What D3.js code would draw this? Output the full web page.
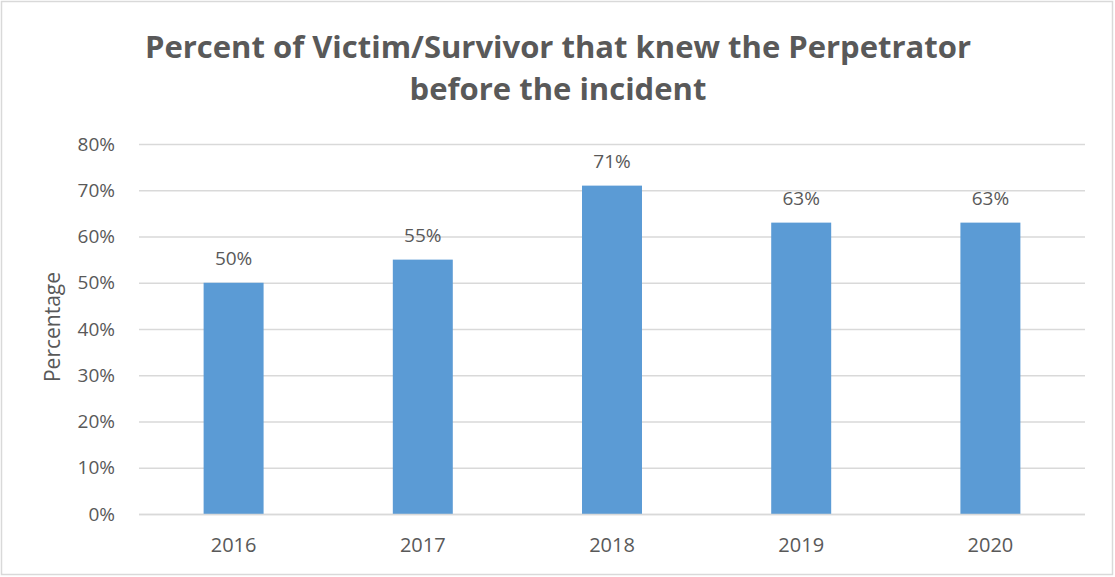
<!DOCTYPE html>
<html>
<head>
<meta charset="utf-8">
<script src="https://cdn.jsdelivr.net/npm/d3@7"></script>
<style>
  body { margin: 0; background: #fff; }
  text { font-family: "Open Sans", sans-serif; fill: #595959; }
</style>
</head>
<body>
<svg width="1115" height="577"></svg>
<script>
// data
var years = ["2016", "2017", "2018", "2019", "2020"];
var percents = [50, 55, 71, 63, 63];
var yTicks = [0, 10, 20, 30, 40, 50, 60, 70, 80];
var titleLines = ["Percent of Victim/Survivor that knew the Perpetrator", "before the incident"];

var svg = d3.select("svg"),
    margin = { top: 144, right: 30, bottom: 63, left: 139 },
    width = +svg.attr("width") - margin.left - margin.right,
    height = +svg.attr("height") - margin.top - margin.bottom;

// outer border
svg.append("rect")
    .attr("x", 1.5).attr("y", 1.5)
    .attr("width", 1111).attr("height", 573)
    .attr("fill", "#fff")
    .attr("stroke", "#d9d9d9")
    .attr("stroke-width", 1.5);

var g = svg.append("g").attr("transform", "translate(" + margin.left + "," + margin.top + ")");

var x = d3.scaleBand()
    .domain(years)
    .range([0, width])
    .paddingInner(0.683)
    .paddingOuter(0.3415);

var y = d3.scaleLinear()
    .domain([0, 80])
    .range([height, 0]);

// gridlines
g.append("g")
    .selectAll("line")
    .data(yTicks)
    .enter().append("line")
    .attr("x1", 0).attr("x2", width)
    .attr("y1", function (d) { return y(d) + 0.5; })
    .attr("y2", function (d) { return y(d) + 0.5; })
    .attr("stroke", "#d9d9d9")
    .attr("stroke-width", 1.3);

// y axis labels
var yAxis = g.append("g")
    .call(d3.axisLeft(y).tickValues(yTicks).tickSize(0).tickPadding(24)
        .tickFormat(function (d) { return d + "%"; }));
yAxis.select(".domain").remove();
yAxis.attr("font-size", 19).attr("font-family", "Open Sans, sans-serif");
yAxis.selectAll("text").style("fill", "#595959");

// x axis labels
var xAxis = g.append("g")
    .attr("transform", "translate(0," + height + ")")
    .call(d3.axisBottom(x).tickSize(0).tickPadding(24));
xAxis.select(".domain").remove();
xAxis.attr("font-size", 20).attr("font-family", "Open Sans, sans-serif");
xAxis.selectAll("text").style("fill", "#595959");

// bars
g.selectAll(".bar")
    .data(percents)
    .enter().append("rect")
    .attr("class", "bar")
    .attr("x", function (d, i) { return x(years[i]); })
    .attr("y", function (d) { return y(d); })
    .attr("width", x.bandwidth())
    .attr("height", function (d) { return height - y(d); })
    .attr("fill", "#5b9bd5");

// baseline
g.append("line")
    .attr("x1", 0).attr("x2", width)
    .attr("y1", height + 0.5).attr("y2", height + 0.5)
    .attr("stroke", "#d9d9d9")
    .attr("stroke-width", 1.3);

// value labels
g.selectAll(".label")
    .data(percents)
    .enter().append("text")
    .attr("class", "label")
    .attr("x", function (d, i) { return x(years[i]) + x.bandwidth() / 2; })
    .attr("y", function (d) { return y(d) - 18; })
    .attr("text-anchor", "middle")
    .attr("font-size", 19)
    .text(function (d) { return d + "%"; });

// y axis title
svg.append("text")
    .attr("transform", "translate(60," + (margin.top + height / 2 - 2) + ") rotate(-90)")
    .attr("text-anchor", "middle")
    .attr("font-size", 21)
    .text("Percentage");

// chart title
svg.append("g").selectAll("text")
    .data(titleLines)
    .enter().append("text")
    .attr("x", 558)
    .attr("y", function (d, i) { return 58 + i * 42; })
    .attr("text-anchor", "middle")
    .attr("font-size", 31)
    .attr("font-weight", "bold")
    .text(function (d) { return d; });
</script>
</body>
</html>
